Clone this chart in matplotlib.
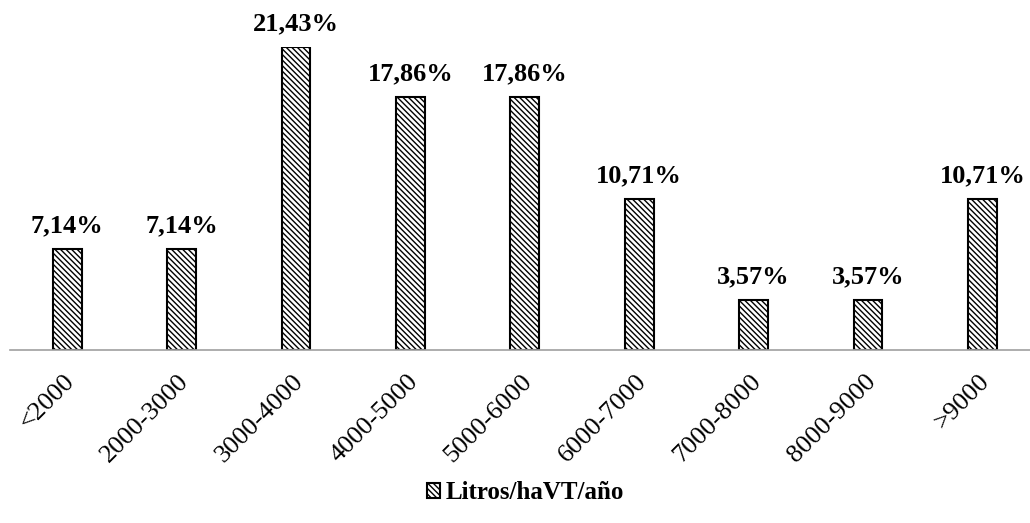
import numpy as np
import matplotlib.pyplot as plt
from matplotlib.transforms import ScaledTranslation

plt.rcParams['font.family'] = ['Liberation Serif', 'DejaVu Serif']
plt.rcParams['hatch.linewidth'] = 1.0

categorias = ['<2000', '2000-3000', '3000-4000', '4000-5000', '5000-6000',
              '6000-7000', '7000-8000', '8000-9000', '>9000']
porcentajes = [7.14, 7.14, 21.43, 17.86, 17.86, 10.71, 3.57, 3.57, 10.71]
etiquetas = ['7,14%', '7,14%', '21,43%', '17,86%', '17,86%',
             '10,71%', '3,57%', '3,57%', '10,71%']

fig = plt.figure(figsize=(10.30, 5.23), dpi=100)
ax = fig.add_axes([0.0097, 0.3308, 0.9996, 0.5794])

x = np.arange(len(categorias))
barras = ax.bar(x, porcentajes, width=0.253, color='white', edgecolor='black',
                linewidth=1.5, hatch='\\' * 6, label='Litros/haVT/año')

for xi, v, t in zip(x, porcentajes, etiquetas):
    ax.annotate(t, (xi, v), xytext=(0, 12), textcoords='offset points',
                ha='center', va='baseline', fontsize=19, fontweight='bold')

ax.set_xlim(-0.5, 8.5)
ax.set_ylim(0, 21.43)
ax.set_xticks(x)
ax.set_xticklabels(categorias, rotation=45, ha='right', va='center',
                   rotation_mode='anchor', fontsize=19)
ax.tick_params(axis='x', length=0, pad=20)
desplazar = ScaledTranslation(4 / 100, 0, fig.dpi_scale_trans)
for lab in ax.get_xticklabels():
    lab.set_transform(lab.get_transform() + desplazar)
ax.set_yticks([])
for s in ['top', 'right', 'left']:
    ax.spines[s].set_visible(False)
ax.spines['bottom'].set_color('#a0a0a0')
ax.spines['bottom'].set_linewidth(1.2)

fig.legend(handles=[barras], labels=['Litros/haVT/año'], loc='center',
           bbox_to_anchor=(0.51, 0.058), frameon=False, handlelength=0.55,
           handleheight=0.55, handletextpad=0.2,
           prop={'weight': 'bold', 'size': 18})

fig.savefig('out.png', dpi=100)
